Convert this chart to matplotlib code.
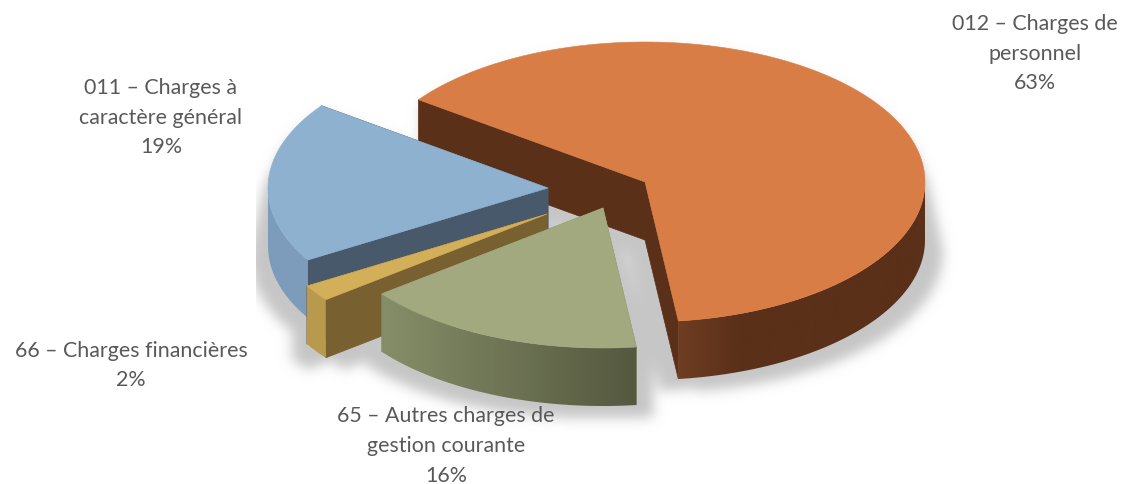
import numpy as np
import matplotlib
matplotlib.use("Agg")
from matplotlib import pyplot as plt
from matplotlib.colors import LinearSegmentedColormap
from matplotlib.patches import Polygon
from matplotlib.path import Path

names = ["011 – Charges à\ncaractère général", "66 – Charges financières",
         "65 – Autres charges de\ngestion courante", "012 – Charges de\npersonnel"]
values = [18.6, 1.9, 16.4, 63.1]
percents = ["19%", "2%", "16%", "63%"]

top_colors = ["#8FB1D0", "#D2AF58", "#A2A97E", "#D97D46"]
cut_colors = ["#47596B", "#786031", "#868E68", "#5A3019"]
wall_colors = [["#7D9CBB", "#7D9CBB"], ["#B89A4E", "#B89A4E"],
               ["#868E68", "#54583F"], ["#6F3D22", "#5A3019", "#5A3019", "#5A3019", "#5A3019"]]

# where each exploded slice has its tip, pixels of the picture
tips = [(548, 189), (547, 215), (603, 209), (645, 183)]
label_pos = [(161, 117.5), (131, 365.5), (446, 446), (1035, 53.5)]

W, H = 1122, 485
RX, RY = 280, 140
DEPTH = 58
START = 144

plt.rcParams['font.family'] = ['Lato', 'DejaVu Sans']
fig = plt.figure(figsize=(W/100, H/100), dpi=100)
ax = fig.add_axes([0, 0, 1, 1])
ax.set_xlim(0, W)
ax.set_ylim(H, 0)
ax.axis("off")

#Slice limits in degrees, going round from the start angle
edges = START + np.concatenate([[0], np.cumsum(values)]) * 3.6


def rim(tip, a0, a1):
    a = np.radians(np.linspace(a0, a1, 120))
    return np.column_stack([tip[0] + RX*np.cos(a), tip[1] - RY*np.sin(a)])


def blur(img, sigma):
    x = np.arange(-3*sigma, 3*sigma+1)
    k = np.exp(-x**2 / (2.0*sigma**2))
    k = k / k.sum()
    img = np.apply_along_axis(lambda v: np.convolve(v, k, mode="same"), 0, img)
    img = np.apply_along_axis(lambda v: np.convolve(v, k, mode="same"), 1, img)
    return img


def draw_shadow():
    gx, gy = np.meshgrid(np.arange(W) + .5, np.arange(H) + .5)
    grid = np.column_stack([gx.ravel(), gy.ravel()])
    mask = np.zeros(W*H, bool)
    for i in range(len(values)):
        pts = np.vstack([[tips[i]], rim(tips[i], edges[i], edges[i+1])])
        # outline pushed down past the wall, and spread sideways more the lower it is
        for d in np.linspace(8, DEPTH + 12, 10):
            for side in (-18, 18):
                poly = pts + [0, d]
                poly[:, 0] += side * np.clip((poly[:, 1] - 170) / 80.0, 0, 1)
                mask |= Path(poly).contains_points(grid)
    mask = blur(mask.reshape(H, W).astype(float), 6)
    mask[:, :256] = 0
    rgba = np.zeros((H, W, 4))
    rgba[..., :3] = 0.78
    rgba[..., 3] = mask
    ax.imshow(rgba, extent=(0, W, H, 0), zorder=1, interpolation="bilinear", aspect="auto")


def draw_slice(i, z):
    tip = tips[i]
    a0, a1 = edges[i], edges[i+1]
    pts = rim(tip, a0, a1)
    low = [0, DEPTH]
    # cut faces
    for end in (pts[0], pts[-1]):
        face = np.array([tip, end, end + low, np.array(tip) + low])
        ax.add_patch(Polygon(face, fc=cut_colors[i], ec=cut_colors[i], lw=.5, zorder=z))
    # outer wall, only the part facing us
    a = np.linspace(a0, a1, 240)
    front = a[np.sin(np.radians(a)) <= 0]
    if len(front) > 1:
        arc = rim(tip, front[0], front[-1])
        wall = Polygon(np.vstack([arc, (arc + low)[::-1]]), fc="none", ec="none", zorder=z)
        ax.add_patch(wall)
        cmap = LinearSegmentedColormap.from_list("w", wall_colors[i])
        grad = np.linspace(0, 1, 256).reshape(1, -1)
        xa, xb = arc[:, 0].min(), arc[:, 0].max()
        im = ax.imshow(grad, cmap=cmap, extent=(xa, xb, H, 0), aspect="auto", zorder=z)
        im.set_clip_path(wall)
    ax.add_patch(Polygon(np.vstack([[tip], pts]), fc=top_colors[i], ec=top_colors[i], lw=.4, zorder=z+.5))


draw_shadow()
# back to front: orange, blue, yellow, green
for z, i in enumerate([3, 0, 1, 2]):
    draw_slice(i, z + 2)
ax.set_xlim(0, W)
ax.set_ylim(H, 0)

for i in range(len(values)):
    ax.text(label_pos[i][0], label_pos[i][1], names[i] + "\n" + percents[i], ha="center", va="center",
            fontsize=15.4, color="#595959", linespacing=1.62, zorder=10)

fig.savefig("out.png", dpi=100)
